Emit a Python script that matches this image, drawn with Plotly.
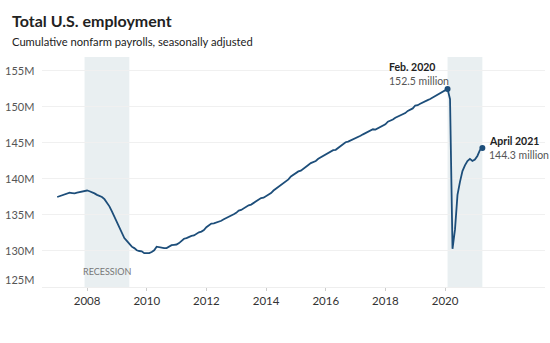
import plotly.graph_objects as go

# Total nonfarm payrolls, seasonally adjusted, millions (monthly, Jan 2007 - Apr 2021)
start_year = 2007
payrolls = [
    # 2007
    137.5, 137.6, 137.8, 137.9, 138.0, 138.1, 138.05, 138.0, 138.1, 138.2, 138.3, 138.4,
    # 2008
    138.4, 138.3, 138.2, 138.0, 137.8, 137.7, 137.5, 137.2, 136.7, 136.2, 135.5, 134.8,
    # 2009
    134.0, 133.3, 132.5, 131.8, 131.4, 131.0, 130.6, 130.4, 130.1, 130.0, 129.96, 129.7,
    # 2010
    129.7, 129.7, 129.85, 130.1, 130.6, 130.5, 130.4, 130.4, 130.4, 130.6, 130.8, 130.85,
    # 2011
    130.9, 131.1, 131.35, 131.7, 131.8, 132.0, 132.1, 132.15, 132.4, 132.6, 132.7, 132.9,
    # 2012
    133.3, 133.55, 133.8, 133.85, 133.95, 134.05, 134.2, 134.4, 134.55, 134.7, 134.9, 135.1,
    # 2013
    135.3, 135.6, 135.7, 135.9, 136.2, 136.35, 136.45, 136.7, 136.9, 137.1, 137.35, 137.4,
    # 2014
    137.6, 137.8, 138.05, 138.4, 138.65, 138.95, 139.15, 139.35, 139.7, 139.95, 140.35, 140.6,
    # 2015
    140.8, 141.05, 141.15, 141.45, 141.75, 141.95, 142.2, 142.3, 142.5, 142.8, 143.0, 143.25,
    # 2016
    143.35, 143.6, 143.8, 144.0, 144.05, 144.3, 144.65, 144.85, 145.1, 145.2, 145.35, 145.45,
    # 2017
    145.65, 145.85, 146.0, 146.2, 146.35, 146.55, 146.75, 146.9, 146.85, 147.05, 147.3, 147.45,
    # 2018
    147.6, 147.95, 148.05, 148.25, 148.5, 148.65, 148.85, 149.05, 149.15, 149.45, 149.6, 149.8,
    # 2019
    150.2, 150.25, 150.45, 150.65, 150.75, 150.95, 151.1, 151.3, 151.45, 151.65, 151.85, 152.0,
    # 2020
    152.25, 152.5, 151.1, 130.3, 133.0, 137.8, 139.6, 141.1, 141.9, 142.5, 142.8, 142.5,
    # 2021
    142.7, 143.2, 144.0, 144.3,
]
months = [start_year + i / 12 for i in range(len(payrolls))]

recessions = [(2007 + 11 / 12, 2009 + 5 / 12), (2020 + 1 / 12, 2021 + 3 / 12)]
y_ticks = [125, 130, 135, 140, 145, 150, 155]
x_ticks = [2008, 2010, 2012, 2014, 2016, 2018, 2020]

peak_idx = min(range(len(months)), key=lambda i: abs(months[i] - (2020 + 1 / 12)))
last_idx = len(payrolls) - 1

LINE = "#1d4e7a"
SHADE = "#e9eff1"
FONT = "Lato"

fig = go.Figure()

for x0, x1 in recessions:
    fig.add_shape(type="rect", xref="x", yref="paper", x0=x0, x1=x1, y0=0, y1=1,
                  fillcolor=SHADE, line_width=0, layer="below")

fig.add_trace(go.Scatter(x=months, y=payrolls, mode="lines",
                         line=dict(color=LINE, width=1.8), hoverinfo="skip"))
fig.add_trace(go.Scatter(x=[months[peak_idx], months[last_idx]],
                         y=[payrolls[peak_idx], payrolls[last_idx]],
                         mode="markers", marker=dict(color=LINE, size=6), hoverinfo="skip"))

annotations = []
for v in y_ticks:
    annotations.append(dict(xref="paper", yref="y", x=0, y=v, xanchor="right", yanchor="middle",
                            xshift=-6, yshift=8 if v == y_ticks[0] else 0,
                            text=f"{v}M", showarrow=False,
                            font=dict(family=FONT, size=11, color="#555")))

annotations += [
    dict(xref="paper", yref="paper", x=-32 / 503, y=(287 - 20) / 230, xanchor="left",
         yanchor="middle", text="<b>Total U.S. employment</b>", showarrow=False,
         font=dict(family=FONT, size=16, color="#222")),
    dict(xref="paper", yref="paper", x=-32 / 503, y=(287 - 42) / 230, xanchor="left",
         yanchor="middle", text="Cumulative nonfarm payrolls, seasonally adjusted",
         showarrow=False, font=dict(family=FONT, size=11.2, color="#222")),
    dict(xref="x", yref="paper", x=sum(recessions[0]) / 2, y=0, yanchor="bottom", yshift=8,
         text="RECESSION", showarrow=False, font=dict(family=FONT, size=9, color="#777")),
    dict(xref="x", yref="y", x=months[peak_idx], y=payrolls[peak_idx], xanchor="left",
         yanchor="bottom", xshift=-61, yshift=14,
         text="<b>Feb. 2020</b>", showarrow=False,
         font=dict(family=FONT, size=10.5, color="#222")),
    dict(xref="x", yref="y", x=months[peak_idx], y=payrolls[peak_idx], xanchor="left",
         yanchor="bottom", xshift=-61, yshift=0,
         text=f"{payrolls[peak_idx]} million", showarrow=False,
         font=dict(family=FONT, size=10.5, color="#555")),
    dict(xref="x", yref="y", x=months[last_idx], y=payrolls[last_idx], xanchor="left",
         yanchor="middle", xshift=5, yshift=7,
         text="<b>April 2021</b>", showarrow=False,
         font=dict(family=FONT, size=10.5, color="#222")),
    dict(xref="x", yref="y", x=months[last_idx], y=payrolls[last_idx], xanchor="left",
         yanchor="middle", xshift=5, yshift=-7,
         text=f"{payrolls[last_idx]} million", showarrow=False,
         font=dict(family=FONT, size=10.5, color="#555")),
]

fig.update_layout(
    width=550, height=343,
    margin=dict(l=42, r=5, t=57, b=56),
    paper_bgcolor="white", plot_bgcolor="white",
    showlegend=False,
    annotations=annotations,
    xaxis=dict(range=[2006.49, 2023.35], tickvals=x_ticks, ticktext=[str(t) for t in x_ticks],
               showgrid=False, zeroline=False, showline=True, linecolor="#eeeeee",
               ticks="outside", ticklen=3, tickcolor="#cccccc",
               tickfont=dict(family=FONT, size=11.5, color="#333"), fixedrange=True),
    yaxis=dict(range=[125, 156.94], tickvals=y_ticks, showticklabels=False,
               showgrid=True, gridcolor="#f0f0f0", gridwidth=1, zeroline=False,
               fixedrange=True),
)

fig.write_html("out.html")
